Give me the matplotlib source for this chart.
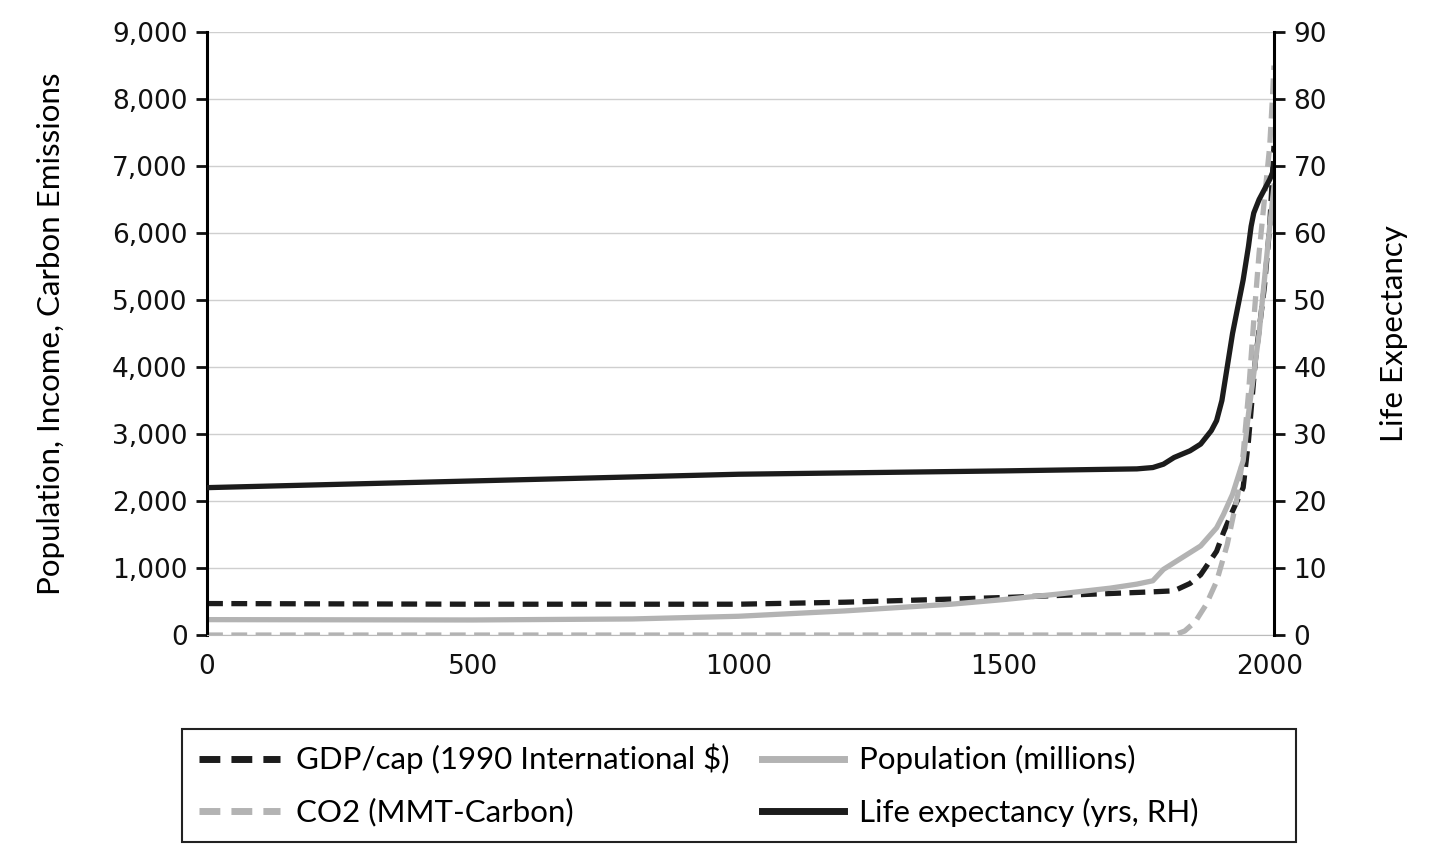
import matplotlib
matplotlib.use("Agg")
import matplotlib.pyplot as plt
from matplotlib.patches import Rectangle
from matplotlib.ticker import FuncFormatter, MultipleLocator

# years and series
years_gdp = [0, 500, 1000, 1200, 1500, 1600, 1700, 1780, 1820, 1850, 1870, 1900, 1913, 1930, 1950, 1960, 1973, 1990, 2000, 2008]
gdp = [470, 460, 460, 490, 560, 590, 620, 645, 660, 770, 900, 1250, 1530, 1850, 2200, 2900, 4100, 5200, 6100, 7300]

years_pop = [0, 500, 800, 1000, 1200, 1400, 1500, 1600, 1700, 1750, 1780, 1800, 1820, 1850, 1870, 1900, 1913, 1930, 1950, 1960, 1970, 1980, 1990, 2000, 2008]
pop = [230, 225, 240, 280, 360, 460, 530, 610, 700, 760, 810, 980, 1080, 1230, 1330, 1600, 1800, 2100, 2600, 3300, 3900, 4500, 5300, 6100, 6700]

years_co2 = [0, 500, 1000, 1500, 1750, 1820, 1840, 1860, 1880, 1900, 1920, 1940, 1950, 1960, 1970, 1980, 1990, 2000, 2005, 2008]
co2 = [0, 0, 0, 0, 0, 0, 60, 200, 450, 800, 1350, 2100, 2700, 3600, 4700, 5700, 6500, 7300, 8000, 8500]

years_le = [0, 500, 1000, 1500, 1750, 1780, 1800, 1820, 1850, 1870, 1890, 1900, 1910, 1920, 1930, 1940, 1950, 1960, 1965, 1970, 1980, 1990, 2000, 2008]
life = [22, 23, 24, 24.5, 24.8, 25, 25.5, 26.5, 27.5, 28.5, 30.5, 32, 35, 40, 45, 49, 53, 58, 61, 63, 65, 66.5, 68, 69.5]

dark = "#1c1c1c"
grey = "#b3b3b3"

plt.rcParams["font.family"] = ["DejaVu Sans"]
fig = plt.figure(figsize=(14.4, 8.66), dpi=100)
ax = fig.add_axes([0.1438, 0.2667, 0.7409, 0.6963])
ax2 = ax.twinx()

l1, = ax.plot(years_gdp, gdp, color=dark, lw=3.8, ls=(0, (3, 1.6)), label="GDP/cap (1990 International $)")
l2, = ax.plot(years_pop, pop, color=grey, lw=3.8, label="Population (millions)")
l3, = ax.plot(years_co2, co2, color=grey, lw=3.8, ls=(0, (3, 1.6)), label="CO2 (MMT-Carbon)")
l4, = ax2.plot(years_le, life, color=dark, lw=3.8, label="Life expectancy (yrs, RH)")

ax.set_xlim(0, 2008)
ax.set_ylim(0, 9000)
ax2.set_ylim(0, 90)
ax.yaxis.set_major_locator(MultipleLocator(1000))
ax2.yaxis.set_major_locator(MultipleLocator(10))
ax.xaxis.set_major_locator(MultipleLocator(500))
ax.yaxis.set_major_formatter(FuncFormatter(lambda v, p: "{:,.0f}".format(v)))
ax.grid(axis="y", color="#cfcfcf", lw=1)
ax.set_axisbelow(True)

for a in (ax, ax2):
    a.spines["top"].set_visible(False)
    a.tick_params(labelsize=19, length=8, width=2, colors="#111111", pad=6)
ax.spines["left"].set_linewidth(2.2)
ax.spines["bottom"].set_color("#bbbbbb")
ax.spines["right"].set_visible(False)
ax2.spines["left"].set_visible(False)
ax2.spines["bottom"].set_visible(False)
ax2.spines["right"].set_linewidth(2.2)
ax.tick_params(axis="x", length=0, pad=14)

ax.set_ylabel("Population, Income, Carbon Emissions", family=["Lato"], fontsize=22.5, labelpad=34)
ax2.set_ylabel("Life Expectancy", family=["Lato"], fontsize=22.5, labelpad=38)

# legend box drawn by hand so it spans the full width
fig.patches.append(Rectangle((0.1264, 0.0277), 0.7736, 0.1305, transform=fig.transFigure,
                             fill=False, edgecolor="#222222", lw=1.5))
leg = fig.legend([l1, l3, l2, l4], [l1.get_label(), l3.get_label(), l2.get_label(), l4.get_label()],
                 ncol=2, loc="center left", bbox_to_anchor=(0.134, 0.093),
                 prop={"family": "Lato", "size": 22.5}, frameon=False,
                 handlelength=2.6, handletextpad=0.5, labelspacing=0.75,
                 borderpad=0.2, borderaxespad=0, columnspacing=1.05)
for h in leg.get_lines():
    h.set_linewidth(5)

fig.savefig("out.png", dpi=100)
